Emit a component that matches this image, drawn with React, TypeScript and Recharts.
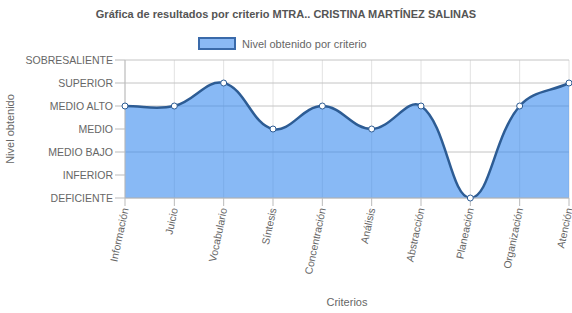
import { Area, AreaChart, CartesianGrid, XAxis, YAxis } from "recharts";

const criterios = [
  "Información",
  "Juicio",
  "Vocabulario",
  "Síntesis",
  "Concentración",
  "Análisis",
  "Abstracción",
  "Planeación",
  "Organización",
  "Atención",
];

const niveles = [4, 4, 5, 3, 4, 3, 4, 0, 4, 5];

const etiquetasNivel = ["DEFICIENTE", "INFERIOR", "MEDIO BAJO", "MEDIO", "MEDIO ALTO", "SUPERIOR", "SOBRESALIENTE"];

const data = criterios.map((name, i) => ({ name, nivel: niveles[i] }));

const FONT = '"Liberation Sans", Arial, sans-serif';
const LINE = "#2d5c94";
const FILL = "rgba(57,138,238,0.6)";

// bezier spline like chart.js (tension 0.4)
function splineCurve(context: any) {
  let pts: number[][] = [];
  let line = NaN;
  const t = 0.4;
  return {
    areaStart() {
      line = 0;
    },
    areaEnd() {
      line = NaN;
    },
    lineStart() {
      pts = [];
    },
    point(x: number, y: number) {
      pts.push([+x, +y]);
    },
    lineEnd() {
      const n = pts.length;
      if (n > 0) {
        if (line) context.lineTo(pts[0][0], pts[0][1]);
        else context.moveTo(pts[0][0], pts[0][1]);
        const cps = pts.map((p, i) => {
          const prev = pts[i - 1] || p;
          const next = pts[i + 1] || p;
          const d01 = Math.hypot(p[0] - prev[0], p[1] - prev[1]);
          const d12 = Math.hypot(next[0] - p[0], next[1] - p[1]);
          const s01 = d01 + d12 ? d01 / (d01 + d12) : 0;
          const s12 = d01 + d12 ? d12 / (d01 + d12) : 0;
          const fa = t * s01;
          const fb = t * s12;
          return {
            prev: [p[0] - fa * (next[0] - prev[0]), p[1] - fa * (next[1] - prev[1])],
            next: [p[0] + fb * (next[0] - prev[0]), p[1] + fb * (next[1] - prev[1])],
          };
        });
        for (let i = 1; i < n; i++) {
          const a = cps[i - 1].next;
          const b = cps[i].prev;
          context.bezierCurveTo(a[0], a[1], b[0], b[1], pts[i][0], pts[i][1]);
        }
      }
      if (line || (line !== 0 && n === 1)) context.closePath();
      line = 1 - line;
    },
  };
}

const XTick = ({ x, y, payload }: any) => (
  <g transform={`translate(${x},${y})`}>
    <text transform="rotate(-78)" textAnchor="end" dy="0.35em" fontSize={10.5} fill="#666" fontFamily={FONT}>
      {payload.value}
    </text>
  </g>
);

export default function App() {
  return (
    <div style={{ position: "absolute", left: 0, top: 0, width: 572, height: 313, fontFamily: FONT }}>
      <div style={{ position: "absolute", top: 8, width: 572, textAlign: "center", fontSize: 11, fontWeight: "bold", color: "#555" }}>
        Gráfica de resultados por criterio MTRA.. CRISTINA MARTÍNEZ SALINAS
      </div>
      <div style={{ position: "absolute", top: 37, left: 198, display: "flex", alignItems: "center", fontSize: 11, color: "#666" }}>
        <span style={{ display: "inline-block", width: 34, height: 9, background: "#8ab9f5", border: "2px solid #3a6aaa", marginRight: 6 }} />
        Nivel obtenido por criterio
      </div>
      <AreaChart width={572} height={313} data={data} margin={{ top: 60, right: 3, bottom: 0, left: 0 }}>
        <CartesianGrid horizontal={false} stroke="#e2e2e2" />
        <CartesianGrid vertical={false} stroke="#c4c4c4" />
        <XAxis
          dataKey="name"
          height={115}
          interval={0}
          tick={<XTick />}
          tickSize={8}
          tickMargin={2}
          stroke="#bbb"
          label={{ value: "Criterios", position: "insideBottom", offset: 7, fontSize: 11, fill: "#666" }}
        />
        <YAxis
          type="number"
          domain={[0, 6]}
          ticks={[0, 1, 2, 3, 4, 5, 6]}
          tickFormatter={(v: number) => etiquetasNivel[v]}
          width={125}
          tickSize={10}
          tickMargin={2}
          stroke="#bbb"
          tick={{ fontSize: 10.5, fill: "#666", fontFamily: FONT }}
          label={{ value: "Nivel obtenido", angle: -90, position: "insideLeft", offset: 10, fontSize: 11, fill: "#666", style: { textAnchor: "middle" } }}
        />
        <Area
          dataKey="nivel"
          type={splineCurve as any}
          stroke={LINE}
          strokeWidth={2.5}
          fill={FILL}
          fillOpacity={1}
          dot={{ r: 3, fill: "#fff", stroke: LINE, strokeWidth: 1, fillOpacity: 1 }}
          activeDot={false}
          isAnimationActive={false}
        />
      </AreaChart>
    </div>
  );
}
